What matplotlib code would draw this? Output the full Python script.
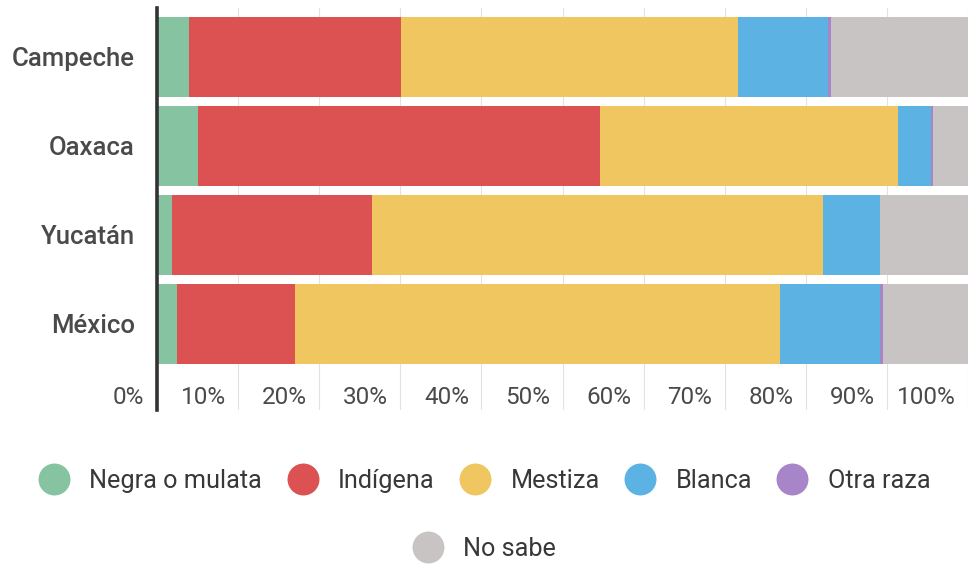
import numpy as np
import matplotlib.pyplot as plt
from matplotlib.lines import Line2D

# data (percent of population)
estados = ['Campeche', 'Oaxaca', 'Yucatán', 'México']
series = ['Negra o mulata', 'Indígena', 'Mestiza', 'Blanca', 'Otra raza', 'No sabe']
negra = [4.0, 5.0, 1.8, 2.5]
indigena = [26.1, 49.6, 24.7, 14.5]
mestiza = [41.5, 36.8, 55.6, 59.8]
blanca = [11.1, 4.0, 7.0, 12.4]
otra = [0.4, 0.3, 0.1, 0.3]
no_sabe = [16.9, 4.3, 10.8, 10.5]
xticks = [0, 10, 20, 30, 40, 50, 60, 70, 80, 90, 100]
xticklabels = ['0%', '10%', '20%', '30%', '40%', '50%', '60%', '70%', '80%', '90%', '100%']

colors = ['#86c4a1', '#dc5253', '#efc65f', '#5cb3e3', '#a884c9', '#c8c4c4']

plt.rcParams['font.family'] = ['Roboto', 'DejaVu Sans']

fig = plt.figure(figsize=(9.68, 5.66), dpi=100)
ax = fig.add_axes([157 / 968, 1 - 410 / 566, 1 - 157 / 968, 402 / 566])

y = np.arange(len(estados))
left = np.zeros(len(estados))
for vals, c, name in zip([negra, indigena, mestiza, blanca, otra, no_sabe], colors, series):
    ax.barh(y, vals, left=left, height=0.9, color=c, label=name, zorder=2)
    left += np.array(vals)

ax.set_xlim(0, 100)
ax.set_ylim(3.97, -0.55)

# grid
for t in xticks[1:]:
    ax.axvline(t, color='#e2e2e2', lw=0.8, zorder=1)
ax.axvline(0, color='#333333', lw=2.6, zorder=3, clip_on=False)

ax.set_xticks([])
ax.set_yticks(y)
ax.set_yticklabels(estados, fontsize=18.5, fontweight='medium', color='#4a4a4a')
ax.tick_params(axis='y', length=0, pad=16)
for s in ax.spines.values():
    s.set_visible(False)

# x tick labels inside the axes, right aligned to gridline
for t, lab in zip(xticks, xticklabels):
    ax.annotate(lab, xy=(t, 3.83), xytext=(-9, 0), textcoords='offset points',
                ha='right', va='center', fontsize=17.5, color='#4a4a4a',
                annotation_clip=False)

handles = [Line2D([], [], marker='o', ls='', markersize=23, markerfacecolor=c,
                  markeredgecolor='none') for c in colors]
leg1 = fig.legend(handles[:5], series[:5], loc='center', bbox_to_anchor=(0.5, 1 - 481 / 566),
                  ncol=5, frameon=False, fontsize=18.2, handletextpad=0.75,
                  columnspacing=0.95, handlelength=1.3, borderaxespad=0, borderpad=0)
for t in leg1.get_texts():
    t.set_color('#383838')
leg2 = fig.legend(handles[5:], series[5:], loc='center', bbox_to_anchor=(0.5, 1 - 549 / 566),
                  ncol=1, frameon=False, fontsize=18.2, handletextpad=0.75, handlelength=1.3,
                  borderaxespad=0, borderpad=0)
for t in leg2.get_texts():
    t.set_color('#383838')

fig.savefig('out.png', dpi=100, facecolor='white')
